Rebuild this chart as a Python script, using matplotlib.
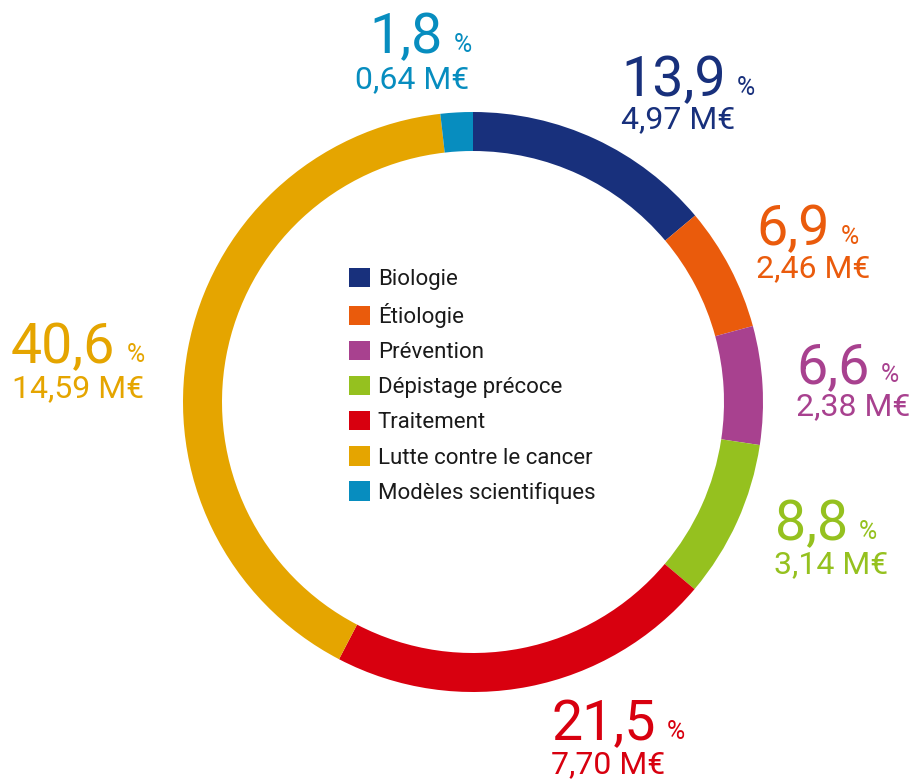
import matplotlib
matplotlib.use('Agg')
from matplotlib import pyplot as plt

W, H = 917, 780

categories = ['Biologie', 'Étiologie', 'Prévention', 'Dépistage précoce',
              'Traitement', 'Lutte contre le cancer', 'Modèles scientifiques']
shares = [13.9, 6.9, 6.6, 8.8, 21.5, 40.6, 1.8]
share_labels = ['13,9', '6,9', '6,6', '8,8', '21,5', '40,6', '1,8']
amount_labels = ['4,97 M€', '2,46 M€', '2,38 M€', '3,14 M€', '7,70 M€', '14,59 M€', '0,64 M€']

COLORS = ['#18307c', '#ea5b0c', '#a8418f', '#95c11f', '#d8000f', '#e5a500', '#078dbf']

# label anchors in image pixels (top-left origin): number x, number baseline, amount x, amount baseline
LABEL_POS = [
    (621, 96, 621, 128),
    (756, 245, 756, 277),
    (796, 383, 796, 415),
    (775, 540, 774, 573),
    (551, 740, 551, 773),
    (11, 363, 12, 397),
    (369, 53, 355, 88),
]

CENTER = (473, 402)
R_OUT = 290
RING = 39


def flip(y):
    return H - y


fig = plt.figure(figsize=(W / 100, H / 100), dpi=100)
ax = fig.add_axes([0, 0, 1, 1])

wedges, _ = ax.pie(shares, colors=COLORS, startangle=90, counterclock=False,
                   center=(CENTER[0], flip(CENTER[1])), radius=R_OUT,
                   wedgeprops=dict(width=RING, linewidth=0), frame=True)
ax.set_xlim(0, W)
ax.set_ylim(0, H)
ax.set_aspect('equal')
ax.axis('off')

for num, amount, color, (xn, yn, xa, ya) in zip(share_labels, amount_labels, COLORS, LABEL_POS):
    t = ax.text(xn, flip(yn), num, color=color, fontsize=40, family='Roboto',
                va='baseline', ha='left')
    ax.annotate('%', xy=(1, 0), xycoords=t, xytext=(8, 5), textcoords='offset points',
                color=color, fontsize=18, family='Roboto',
                va='bottom', ha='left')
    ax.text(xa, flip(ya), amount, color=color, fontsize=23, family='Roboto',
            va='baseline', ha='left')

leg = ax.legend(wedges, categories, loc='upper left',
                bbox_to_anchor=(349 / W, 1 - 268 / H), frameon=False,
                handlelength=0.95, handleheight=0.95, handletextpad=0.35,
                labelspacing=0.58, borderpad=0, borderaxespad=0,
                prop=dict(family='Roboto', size=16))
for txt in leg.get_texts():
    txt.set_color('#1a1a1a')

fig.savefig('out.png', dpi=100)
